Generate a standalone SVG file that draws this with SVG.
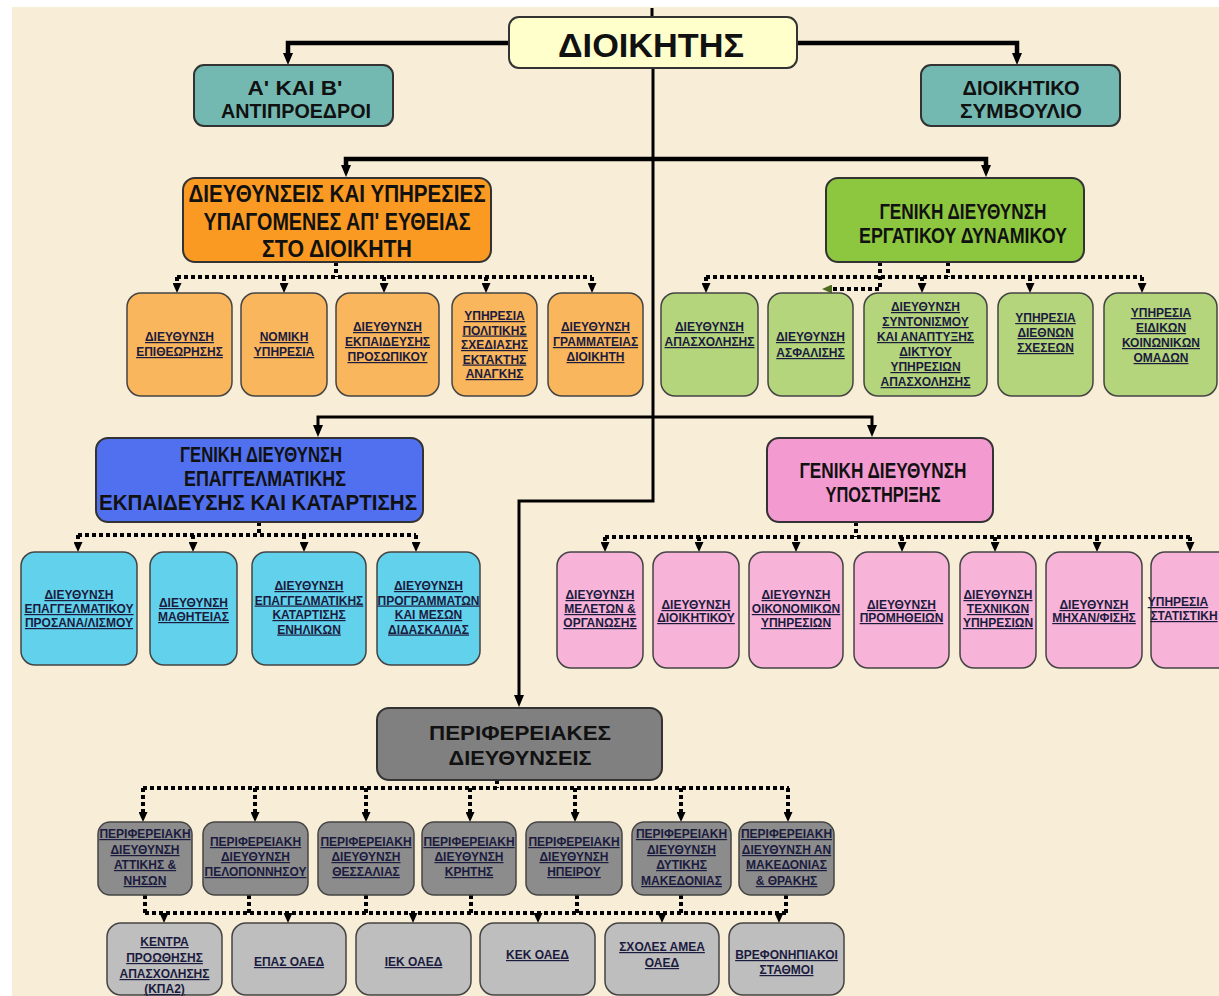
<svg xmlns="http://www.w3.org/2000/svg" width="1219" height="996" viewBox="0 0 1219 996">
<defs>
<marker id="big" markerUnits="userSpaceOnUse" markerWidth="12" markerHeight="10" refX="2" refY="5" orient="auto"><path d="M0,0 L12,5 L0,10 z" fill="#000"/></marker>
<marker id="sm" markerUnits="userSpaceOnUse" markerWidth="10" markerHeight="9" refX="2" refY="4.5" orient="auto"><path d="M0,0 L10,4.5 L0,9 z" fill="#000"/></marker>
<marker id="smg" markerUnits="userSpaceOnUse" markerWidth="10" markerHeight="9" refX="2" refY="4.5" orient="auto"><path d="M0,0 L10,4.5 L0,9 z" fill="#4f6b22"/></marker>
</defs>
<style>
.bg{fill:#F8EDD6}
.main{stroke:#333;stroke-width:2}
.ch{stroke:#444;stroke-width:1.5}
.solid{fill:none;stroke:#000;stroke-width:3}
.thick{stroke-width:4.5}
.dot{fill:none;stroke:#000;stroke-width:4;stroke-dasharray:4 3}
.tt{font-family:"Liberation Sans",Arial,sans-serif;font-weight:bold;text-anchor:middle;fill:#111}
.st{font-family:"Liberation Sans",Arial,sans-serif;font-weight:bold;font-size:12px;text-anchor:middle;fill:#1b1b3f;text-decoration:underline}
.yel{fill:#FFFFCC}.teal{fill:#74B9B1}
.or{fill:#FA9A22}.orc{fill:#F9B65C}
.gr{fill:#8DC63F}.grc{fill:#B4D57B}
.bl{fill:#5070F0}.blc{fill:#62D2EC}
.pk{fill:#F39AD0}.pkc{fill:#F7B3D8}
.gy{fill:#808080}.gyc{fill:#8C8C8C}.lgy{fill:#BEBEBE}
</style>
<rect class="bg" x="12" y="7" width="1207" height="989"/>

<g id="connectors">
<path class="solid" stroke-width="2" d="M652 8 V17"/>
<path class="solid thick" d="M509 43 H288 V55" marker-end="url(#big)"/>
<path class="solid thick" d="M797 43 H1017 V55" marker-end="url(#big)"/>
<path class="solid" d="M653 68 V501 H519 V697" marker-end="url(#big)"/>
<path class="solid thick" d="M653 159 H346 V167" marker-end="url(#big)"/>
<path class="solid thick" d="M653 159 H986 V167" marker-end="url(#big)"/>
<path class="solid" d="M653 417 H318 V427" marker-end="url(#big)"/>
<path class="solid" d="M653 417 H872 V427" marker-end="url(#big)"/>

<path class="dot" d="M336 262 V277"/>
<path class="dot" d="M177 277 H592"/>
<path class="dot" d="M177 277 V285" marker-end="url(#sm)"/>
<path class="dot" d="M284 277 V285" marker-end="url(#sm)"/>
<path class="dot" d="M384 277 V285" marker-end="url(#sm)"/>
<path class="dot" d="M486 277 V285" marker-end="url(#sm)"/>
<path class="dot" d="M592 277 V285" marker-end="url(#sm)"/>

<path class="dot" d="M948 262 V277"/>
<path class="dot" d="M706 277 H1142"/>
<path class="dot" d="M706 277 V285" marker-end="url(#sm)"/>
<path class="dot" d="M922 277 V285" marker-end="url(#sm)"/>
<path class="dot" d="M1030 277 V285" marker-end="url(#sm)"/>
<path class="dot" d="M1142 277 V285" marker-end="url(#sm)"/>
<path class="dot" d="M880 262 V289 H830" marker-end="url(#smg)"/>

<path class="dot" d="M259 522 V535"/>
<path class="dot" d="M78 535 H416"/>
<path class="dot" d="M78 535 V544" marker-end="url(#sm)"/>
<path class="dot" d="M193 535 V544" marker-end="url(#sm)"/>
<path class="dot" d="M304 535 V544" marker-end="url(#sm)"/>
<path class="dot" d="M416 535 V544" marker-end="url(#sm)"/>

<path class="dot" d="M856 522 V537"/>
<path class="dot" d="M605 537 H1190"/>
<path class="dot" d="M605 537 V544" marker-end="url(#sm)"/>
<path class="dot" d="M699 537 V544" marker-end="url(#sm)"/>
<path class="dot" d="M796 537 V544" marker-end="url(#sm)"/>
<path class="dot" d="M902 537 V544" marker-end="url(#sm)"/>
<path class="dot" d="M995 537 V544" marker-end="url(#sm)"/>
<path class="dot" d="M1097 537 V544" marker-end="url(#sm)"/>
<path class="dot" d="M1190 537 V544" marker-end="url(#sm)"/>

<path class="dot" d="M497 780 V788"/>
<path class="dot" d="M143 788 H789"/>
<path class="dot" d="M143 788 V814" marker-end="url(#sm)"/>
<path class="dot" d="M255 788 V814" marker-end="url(#sm)"/>
<path class="dot" d="M366 788 V814" marker-end="url(#sm)"/>
<path class="dot" d="M470 788 V814" marker-end="url(#sm)"/>
<path class="dot" d="M575 788 V814" marker-end="url(#sm)"/>
<path class="dot" d="M681 788 V814" marker-end="url(#sm)"/>
<path class="dot" d="M788 788 V814" marker-end="url(#sm)"/>

<path class="dot" d="M145 895 V913 M249 895 V913 M366 895 V913 M471 895 V913 M577 895 V913 M681 895 V913 M786 895 V913"/>
<path class="dot" d="M145 913 H786"/>
<path class="dot" d="M164 913 V915" marker-end="url(#sm)"/>
<path class="dot" d="M288 913 V915" marker-end="url(#sm)"/>
<path class="dot" d="M413 913 V915" marker-end="url(#sm)"/>
<path class="dot" d="M538 913 V915" marker-end="url(#sm)"/>
<path class="dot" d="M662 913 V915" marker-end="url(#sm)"/>
<path class="dot" d="M779 913 V915" marker-end="url(#sm)"/>
</g>

<g id="dioikitis"><rect class="yel main" x="509" y="17" width="288" height="51" rx="10"/>
<text class="tt" x="651" y="57" font-size="33" textLength="186" lengthAdjust="spacingAndGlyphs">ΔΙΟΙΚΗΤΗΣ</text></g>
<g id="antiproedroi"><rect class="teal main" x="194" y="65" width="199" height="61" rx="10"/>
<text class="tt" x="295" y="95" font-size="21" textLength="95" lengthAdjust="spacingAndGlyphs">Α' ΚΑΙ Β'</text>
<text class="tt" x="296" y="118" font-size="21" textLength="150" lengthAdjust="spacingAndGlyphs">ΑΝΤΙΠΡΟΕΔΡΟΙ</text></g>
<g id="dioikitiko"><rect class="teal main" x="921" y="65" width="199" height="61" rx="10"/>
<text class="tt" x="1021" y="95" font-size="21" textLength="117" lengthAdjust="spacingAndGlyphs">ΔΙΟΙΚΗΤΙΚΟ</text>
<text class="tt" x="1021" y="118" font-size="21" textLength="122" lengthAdjust="spacingAndGlyphs">ΣΥΜΒΟΥΛΙΟ</text></g>

<g id="orange-main"><rect class="or main" x="183" y="178" width="308" height="84" rx="12"/>
<text class="tt" x="337" y="202" font-size="23" textLength="297" lengthAdjust="spacingAndGlyphs">ΔΙΕΥΘΥΝΣΕΙΣ ΚΑΙ ΥΠΗΡΕΣΙΕΣ</text>
<text class="tt" x="337" y="230" font-size="23" textLength="267" lengthAdjust="spacingAndGlyphs">ΥΠΑΓΟΜΕΝΕΣ ΑΠ' ΕΥΘΕΙΑΣ</text>
<text class="tt" x="337" y="257" font-size="23" textLength="150" lengthAdjust="spacingAndGlyphs">ΣΤΟ ΔΙΟΙΚΗΤΗ</text></g>
<g id="o1"><rect class="orc ch" x="127" y="293" width="105" height="103" rx="14"/>
<text class="st" x="179.5" y="341">ΔΙΕΥΘΥΝΣΗ</text><text class="st" x="179.5" y="356">ΕΠΙΘΕΩΡΗΣΗΣ</text></g>
<g id="o2"><rect class="orc ch" x="241" y="293" width="86" height="103" rx="14"/>
<text class="st" x="284" y="341">ΝΟΜΙΚΗ</text><text class="st" x="284" y="356">ΥΠΗΡΕΣΙΑ</text></g>
<g id="o3"><rect class="orc ch" x="336" y="293" width="103" height="103" rx="14"/>
<text class="st" x="387.5" y="331">ΔΙΕΥΘΥΝΣΗ</text><text class="st" x="387.5" y="346">ΕΚΠΑΙΔΕΥΣΗΣ</text><text class="st" x="387.5" y="361">ΠΡΟΣΩΠΙΚΟΥ</text></g>
<g id="o4"><rect class="orc ch" x="452" y="293" width="85" height="103" rx="14"/>
<text class="st" x="494.5" y="320">ΥΠΗΡΕΣΙΑ</text><text class="st" x="494.5" y="334.5">ΠΟΛΙΤΙΚΗΣ</text><text class="st" x="494.5" y="349">ΣΧΕΔΙΑΣΗΣ</text><text class="st" x="494.5" y="363.5">ΕΚΤΑΚΤΗΣ</text><text class="st" x="494.5" y="378">ΑΝΑΓΚΗΣ</text></g>
<g id="o5"><rect class="orc ch" x="548" y="293" width="95" height="103" rx="14"/>
<text class="st" x="595.5" y="331">ΔΙΕΥΘΥΝΣΗ</text><text class="st" x="595.5" y="346">ΓΡΑΜΜΑΤΕΙΑΣ</text><text class="st" x="595.5" y="361">ΔΙΟΙΚΗΤΗ</text></g>

<g id="green-main"><rect class="gr main" x="826" y="178" width="258" height="84" rx="12"/>
<text class="tt" x="963" y="219" font-size="22" textLength="167" lengthAdjust="spacingAndGlyphs">ΓΕΝΙΚΗ ΔΙΕΥΘΥΝΣΗ</text>
<text class="tt" x="963" y="243" font-size="22" textLength="208" lengthAdjust="spacingAndGlyphs">ΕΡΓΑΤΙΚΟΥ ΔΥΝΑΜΙΚΟΥ</text></g>
<g id="g1"><rect class="grc ch" x="661" y="293" width="97" height="103" rx="14"/>
<text class="st" x="709.5" y="331">ΔΙΕΥΘΥΝΣΗ</text><text class="st" x="709.5" y="346">ΑΠΑΣΧΟΛΗΣΗΣ</text></g>
<g id="g2"><rect class="grc ch" x="768" y="293" width="85" height="103" rx="14"/>
<text class="st" x="810.5" y="341">ΔΙΕΥΘΥΝΣΗ</text><text class="st" x="810.5" y="357">ΑΣΦΑΛΙΣΗΣ</text></g>
<g id="g3"><rect class="grc ch" x="864" y="293" width="123" height="103" rx="14"/>
<text class="st" x="925.5" y="311">ΔΙΕΥΘΥΝΣΗ</text><text class="st" x="925.5" y="326">ΣΥΝΤΟΝΙΣΜΟΥ</text><text class="st" x="925.5" y="341">ΚΑΙ ΑΝΑΠΤΥΞΗΣ</text><text class="st" x="925.5" y="356">ΔΙΚΤΥΟΥ</text><text class="st" x="925.5" y="371">ΥΠΗΡΕΣΙΩΝ</text><text class="st" x="925.5" y="386">ΑΠΑΣΧΟΛΗΣΗΣ</text></g>
<g id="g4"><rect class="grc ch" x="998" y="293" width="95" height="103" rx="14"/>
<text class="st" x="1045.5" y="322">ΥΠΗΡΕΣΙΑ</text><text class="st" x="1045.5" y="337">ΔΙΕΘΝΩΝ</text><text class="st" x="1045.5" y="352">ΣΧΕΣΕΩΝ</text></g>
<g id="g5"><rect class="grc ch" x="1104" y="293" width="113" height="103" rx="14"/>
<text class="st" x="1161" y="317">ΥΠΗΡΕΣΙΑ</text><text class="st" x="1161" y="332">ΕΙΔΙΚΩΝ</text><text class="st" x="1161" y="347">ΚΟΙΝΩΝΙΚΩΝ</text><text class="st" x="1161" y="362">ΟΜΑΔΩΝ</text></g>

<g id="blue-main"><rect class="bl main" x="96" y="438" width="327" height="84" rx="12"/>
<text class="tt" x="261" y="462" font-size="22" textLength="162" lengthAdjust="spacingAndGlyphs">ΓΕΝΙΚΗ ΔΙΕΥΘΥΝΣΗ</text>
<text class="tt" x="265" y="486" font-size="22" textLength="162" lengthAdjust="spacingAndGlyphs">ΕΠΑΓΓΕΛΜΑΤΙΚΗΣ</text>
<text class="tt" x="258" y="510" font-size="22" textLength="318" lengthAdjust="spacingAndGlyphs">ΕΚΠΑΙΔΕΥΣΗΣ ΚΑΙ ΚΑΤΑΡΤΙΣΗΣ</text></g>
<g id="b1"><rect class="blc ch" x="21" y="552" width="116" height="113" rx="14"/>
<text class="st" x="79" y="599">ΔΙΕΥΘΥΝΣΗ</text><text class="st" x="79" y="613">ΕΠΑΓΓΕΛΜΑΤΙΚΟΥ</text><text class="st" x="79" y="627">ΠΡΟΣΑΝΑ/ΛΙΣΜΟΥ</text></g>
<g id="b2"><rect class="blc ch" x="150" y="552" width="87" height="113" rx="14"/>
<text class="st" x="193.5" y="607">ΔΙΕΥΘΥΝΣΗ</text><text class="st" x="193.5" y="621">ΜΑΘΗΤΕΙΑΣ</text></g>
<g id="b3"><rect class="blc ch" x="252" y="552" width="114" height="113" rx="14"/>
<text class="st" x="309" y="590">ΔΙΕΥΘΥΝΣΗ</text><text class="st" x="309" y="604.5">ΕΠΑΓΓΕΛΜΑΤΙΚΗΣ</text><text class="st" x="309" y="619">ΚΑΤΑΡΤΙΣΗΣ</text><text class="st" x="309" y="633.5">ΕΝΗΛΙΚΩΝ</text></g>
<g id="b4"><rect class="blc ch" x="377" y="552" width="103" height="113" rx="14"/>
<text class="st" x="428.5" y="590">ΔΙΕΥΘΥΝΣΗ</text><text class="st" x="428.5" y="604.5">ΠΡΟΓΡΑΜΜΑΤΩΝ</text><text class="st" x="428.5" y="619">ΚΑΙ ΜΕΣΩΝ</text><text class="st" x="428.5" y="633.5">ΔΙΔΑΣΚΑΛΙΑΣ</text></g>

<g id="pink-main"><rect class="pk main" x="767" y="438" width="226" height="84" rx="12"/>
<text class="tt" x="883" y="478" font-size="22" textLength="167" lengthAdjust="spacingAndGlyphs">ΓΕΝΙΚΗ ΔΙΕΥΘΥΝΣΗ</text>
<text class="tt" x="883" y="502" font-size="22" textLength="115" lengthAdjust="spacingAndGlyphs">ΥΠΟΣΤΗΡΙΞΗΣ</text></g>
<g id="p1"><rect class="pkc ch" x="557" y="552" width="86" height="116" rx="14"/>
<text class="st" x="600" y="599">ΔΙΕΥΘΥΝΣΗ</text><text class="st" x="600" y="613">ΜΕΛΕΤΩΝ &amp;</text><text class="st" x="600" y="627">ΟΡΓΑΝΩΣΗΣ</text></g>
<g id="p2"><rect class="pkc ch" x="653" y="552" width="86" height="116" rx="14"/>
<text class="st" x="696" y="609">ΔΙΕΥΘΥΝΣΗ</text><text class="st" x="696" y="622">ΔΙΟΙΚΗΤΙΚΟΥ</text></g>
<g id="p3"><rect class="pkc ch" x="749" y="552" width="94" height="116" rx="14"/>
<text class="st" x="796" y="599">ΔΙΕΥΘΥΝΣΗ</text><text class="st" x="796" y="613">ΟΙΚΟΝΟΜΙΚΩΝ</text><text class="st" x="796" y="627">ΥΠΗΡΕΣΙΩΝ</text></g>
<g id="p4"><rect class="pkc ch" x="854" y="552" width="95" height="116" rx="14"/>
<text class="st" x="901.5" y="609">ΔΙΕΥΘΥΝΣΗ</text><text class="st" x="901.5" y="622">ΠΡΟΜΗΘΕΙΩΝ</text></g>
<g id="p5"><rect class="pkc ch" x="960" y="552" width="76" height="116" rx="14"/>
<text class="st" x="998" y="599">ΔΙΕΥΘΥΝΣΗ</text><text class="st" x="998" y="613">ΤΕΧΝΙΚΩΝ</text><text class="st" x="998" y="627">ΥΠΗΡΕΣΙΩΝ</text></g>
<g id="p6"><rect class="pkc ch" x="1046" y="552" width="96" height="116" rx="14"/>
<text class="st" x="1094" y="609">ΔΙΕΥΘΥΝΣΗ</text><text class="st" x="1094" y="622">ΜΗΧΑΝ/ΦΙΣΗΣ</text></g>
<g id="p7"><rect class="pkc ch" x="1151" y="552" width="90" height="116" rx="14"/>
<text class="st" x="1178" y="606">ΥΠΗΡΕΣΙΑ</text><text class="st" x="1184" y="620">ΣΤΑΤΙΣΤΙΚΗ</text></g>

<g id="grey-main"><rect class="gy main" x="377" y="708" width="285" height="72" rx="12"/>
<text class="tt" x="520" y="740" font-size="21" textLength="182" lengthAdjust="spacingAndGlyphs">ΠΕΡΙΦΕΡΕΙΑΚΕΣ</text>
<text class="tt" x="520" y="765" font-size="21" textLength="143" lengthAdjust="spacingAndGlyphs">ΔΙΕΥΘΥΝΣΕΙΣ</text></g>
<g id="r1"><rect class="gyc ch" x="98" y="822" width="94" height="73" rx="12"/>
<text class="st" x="145" y="838">ΠΕΡΙΦΕΡΕΙΑΚΗ</text><text class="st" x="145" y="854">ΔΙΕΥΘΥΝΣΗ</text><text class="st" x="145" y="869">ΑΤΤΙΚΗΣ &amp;</text><text class="st" x="145" y="885">ΝΗΣΩΝ</text></g>
<g id="r2"><rect class="gyc ch" x="203" y="822" width="105" height="73" rx="12"/>
<text class="st" x="255.5" y="846">ΠΕΡΙΦΕΡΕΙΑΚΗ</text><text class="st" x="255.5" y="861">ΔΙΕΥΘΥΝΣΗ</text><text class="st" x="255.5" y="876">ΠΕΛΟΠΟΝΝΗΣΟΥ</text></g>
<g id="r3"><rect class="gyc ch" x="318" y="822" width="96" height="73" rx="12"/>
<text class="st" x="366" y="846">ΠΕΡΙΦΕΡΕΙΑΚΗ</text><text class="st" x="366" y="861">ΔΙΕΥΘΥΝΣΗ</text><text class="st" x="366" y="876">ΘΕΣΣΑΛΙΑΣ</text></g>
<g id="r4"><rect class="gyc ch" x="422" y="822" width="94" height="73" rx="12"/>
<text class="st" x="469" y="846">ΠΕΡΙΦΕΡΕΙΑΚΗ</text><text class="st" x="469" y="861">ΔΙΕΥΘΥΝΣΗ</text><text class="st" x="469" y="876">ΚΡΗΤΗΣ</text></g>
<g id="r5"><rect class="gyc ch" x="526" y="822" width="96" height="73" rx="12"/>
<text class="st" x="574" y="846">ΠΕΡΙΦΕΡΕΙΑΚΗ</text><text class="st" x="574" y="861">ΔΙΕΥΘΥΝΣΗ</text><text class="st" x="574" y="876">ΗΠΕΙΡΟΥ</text></g>
<g id="r6"><rect class="gyc ch" x="632" y="822" width="99" height="73" rx="12"/>
<text class="st" x="681.5" y="838">ΠΕΡΙΦΕΡΕΙΑΚΗ</text><text class="st" x="681.5" y="854">ΔΙΕΥΘΥΝΣΗ</text><text class="st" x="681.5" y="869">ΔΥΤΙΚΗΣ</text><text class="st" x="681.5" y="885">ΜΑΚΕΔΟΝΙΑΣ</text></g>
<g id="r7"><rect class="gyc ch" x="739" y="822" width="95" height="73" rx="12"/>
<text class="st" x="786.5" y="838">ΠΕΡΙΦΕΡΕΙΑΚΗ</text><text class="st" x="786.5" y="854">ΔΙΕΥΘΥΝΣΗ ΑΝ</text><text class="st" x="786.5" y="869">ΜΑΚΕΔΟΝΙΑΣ</text><text class="st" x="786.5" y="885">&amp; ΘΡΑΚΗΣ</text></g>

<g id="s1"><rect class="lgy ch" x="107" y="923" width="115" height="72" rx="14"/>
<text class="st" x="164.5" y="946">ΚΕΝΤΡΑ</text><text class="st" x="164.5" y="962">ΠΡΟΩΘΗΣΗΣ</text><text class="st" x="164.5" y="978">ΑΠΑΣΧΟΛΗΣΗΣ</text><text class="st" x="164.5" y="993">(ΚΠΑ2)</text></g>
<g id="s2"><rect class="lgy ch" x="232" y="923" width="114" height="72" rx="14"/>
<text class="st" x="289" y="966">ΕΠΑΣ ΟΑΕΔ</text></g>
<g id="s3"><rect class="lgy ch" x="356" y="923" width="115" height="72" rx="14"/>
<text class="st" x="413.5" y="966">ΙΕΚ ΟΑΕΔ</text></g>
<g id="s4"><rect class="lgy ch" x="480" y="923" width="115" height="72" rx="14"/>
<text class="st" x="537.5" y="959">ΚΕΚ ΟΑΕΔ</text></g>
<g id="s5"><rect class="lgy ch" x="605" y="923" width="114" height="72" rx="14"/>
<text class="st" x="662" y="951">ΣΧΟΛΕΣ ΑΜΕΑ</text><text class="st" x="662" y="967">ΟΑΕΔ</text></g>
<g id="s6"><rect class="lgy ch" x="729" y="923" width="115" height="72" rx="14"/>
<text class="st" x="786.5" y="959">ΒΡΕΦΟΝΗΠΙΑΚΟΙ</text><text class="st" x="786.5" y="974">ΣΤΑΘΜΟΙ</text></g>
</svg>
